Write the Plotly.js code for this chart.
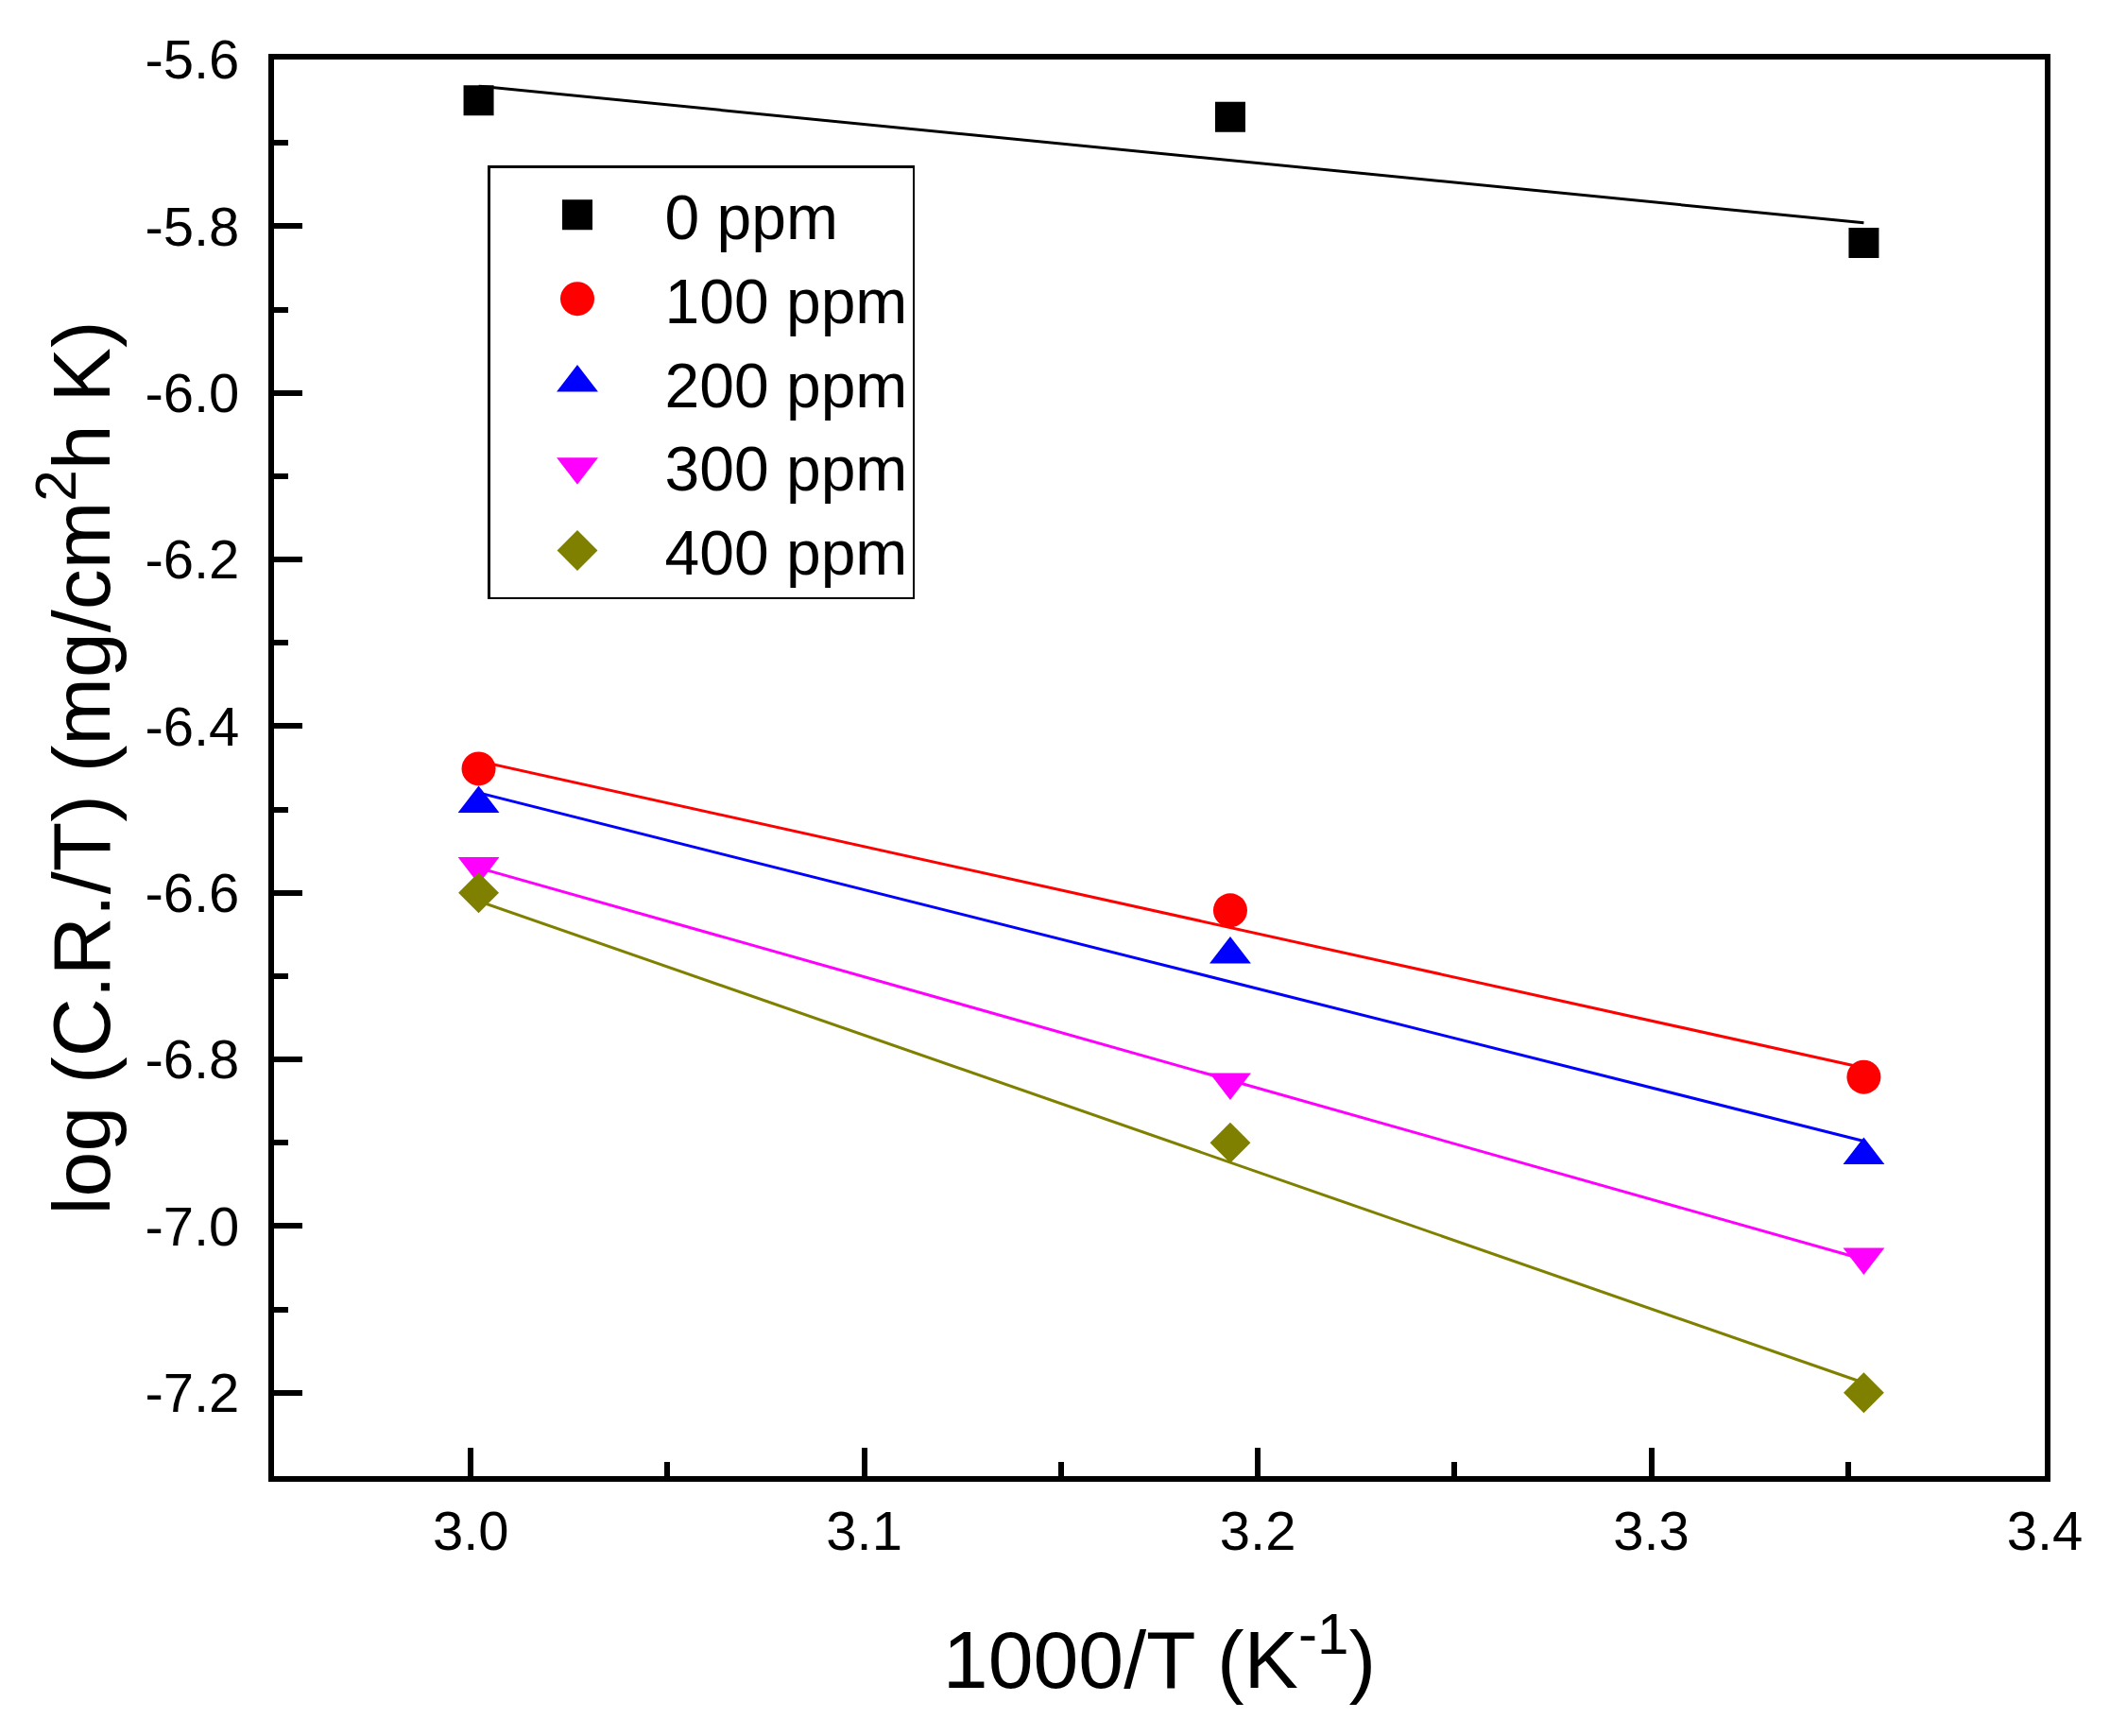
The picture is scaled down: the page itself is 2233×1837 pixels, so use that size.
<!DOCTYPE html>
<html>
<head>
<meta charset="utf-8">
<title>log (C.R./T) vs 1000/T</title>
<script src="https://cdn.plot.ly/plotly-3.0.1.min.js"></script>
<style>
    html, body { margin: 0; padding: 0; background: #fff; }
    #grafico { width: 2233px; height: 1837px; }
</style>
</head>
<body>
<div id="grafico"></div>
<script>
    'use strict';

    // Datos (1000/T en K^-1, log(C.R./T))
    const invTemp = [3.002, 3.193, 3.354];
    const y0ppm = [-5.649, -5.669, -5.820];
    const y100ppm = [-6.451, -6.621, -6.821];
    const y200ppm = [-6.493, -6.674, -6.915];
    const y300ppm = [-6.568, -6.827, -7.037];
    const y400ppm = [-6.600, -6.900, -7.200];

    // Rectas de ajuste (extremos)
    const fitX = [3.002, 3.354];
    const fit0ppm = [-5.632, -5.796];
    const fit100ppm = [-6.442, -6.810];
    const fit200ppm = [-6.480, -6.898];
    const fit300ppm = [-6.570, -7.040];
    const fit400ppm = [-6.610, -7.188];

    const seriesNames = ['0 ppm', '100 ppm', '200 ppm', '300 ppm', '400 ppm'];

    // Etiquetas de ejes
    const xTickVals = [3.0, 3.1, 3.2, 3.3, 3.4];
    const xTickText = ['3.0', '3.1', '3.2', '3.3', '3.4'];
    const yTickVals = [-7.2, -7.0, -6.8, -6.6, -6.4, -6.2, -6.0, -5.8, -5.6];
    const yTickText = ['-7.2', '-7.0', '-6.8', '-6.6', '-6.4', '-6.2', '-6.0', '-5.8', '-5.6'];

    const FONT = 'Liberation Sans, Arial, sans-serif';

    const estilos = [
        { color: '#000000', symbol: 'square', size: 32 },
        { color: '#ff0000', symbol: 'circle', size: 36 },
        { color: '#0000ff', symbol: 'triangle-up', size: 38 },
        { color: '#ff00ff', symbol: 'triangle-down', size: 38 },
        { color: '#808000', symbol: 'diamond', size: 33 },
    ];

    const puntos = [y0ppm, y100ppm, y200ppm, y300ppm, y400ppm];
    const ajustes = [fit0ppm, fit100ppm, fit200ppm, fit300ppm, fit400ppm];

    const traces = [];

    // Primero las rectas, para que los marcadores queden encima
    ajustes.forEach(function(fy, i) {
        traces.push({
            x: fitX,
            y: fy,
            type: 'scatter',
            mode: 'lines',
            line: { color: estilos[i].color, width: 3 },
            showlegend: false,
            hoverinfo: 'skip',
        });
    });

    puntos.forEach(function(py, i) {
        traces.push({
            x: invTemp,
            y: py,
            name: seriesNames[i],
            type: 'scatter',
            mode: 'markers',
            marker: {
                color: estilos[i].color,
                symbol: estilos[i].symbol,
                size: estilos[i].size,
                line: { width: 0 },
            },
        });
    });

    const ejeComun = {
        showgrid: false,
        zeroline: false,
        showline: true,
        linecolor: '#000',
        linewidth: 6,
        mirror: true,
        ticks: 'inside',
        ticklen: 30,
        tickwidth: 6,
        tickcolor: '#000',
        tickfont: { family: FONT, size: 58, color: '#000' },
    };

    const layout = {
        width: 2233,
        height: 1837,
        paper_bgcolor: '#fff',
        plot_bgcolor: '#fff',
        font: { family: FONT, color: '#000' },
        margin: { l: 290, r: 69, t: 63, b: 275 },
        showlegend: true,
        legend: {
            x: 0.1206,
            y: 0.925,
            xanchor: 'left',
            yanchor: 'top',
            bgcolor: '#fff',
            bordercolor: '#000',
            borderwidth: 2.5,
            itemwidth: 175,
            font: { family: FONT, size: 66, color: '#000' },
        },
        xaxis: Object.assign({}, ejeComun, {
            range: [2.95, 3.4],
            tickmode: 'array',
            tickvals: xTickVals,
            ticktext: xTickText,
            ticklabelstandoff: 2,
            minor: { tickmode: 'linear', tick0: 3.05, dtick: 0.1, ticks: 'inside', ticklen: 15, tickwidth: 6, tickcolor: '#000' },
            title: {
                text: '1000/T (K<sup>-1</sup>)',
                font: { family: FONT, size: 86, color: '#000' },
                standoff: 77,
            },
        }),
        yaxis: Object.assign({}, ejeComun, {
            range: [-7.3, -5.6],
            tickmode: 'array',
            tickvals: yTickVals,
            ticktext: yTickText,
            ticklabelstandoff: 19,
            minor: { tickmode: 'linear', tick0: -5.7, dtick: 0.2, ticks: 'inside', ticklen: 15, tickwidth: 6, tickcolor: '#000' },
            title: {
                text: 'log (C.R./T) (mg/cm<sup>2</sup>h K)',
                font: { family: FONT, size: 86, color: '#000' },
                standoff: 10,
            },
        }),
    };

    Plotly.newPlot('grafico', traces, layout, { staticPlot: true }).then(function(gd) {
        // Plotly limita los símbolos de la leyenda a 16 px; se agrandan al tamaño de los marcadores
        gd.querySelectorAll('.legend .traces').forEach(function(g, i) {
            const escala = estilos[i].size / 16;
            g.querySelectorAll('path.scatterpts').forEach(function(p) {
                const t = p.getAttribute('transform') || '';
                p.setAttribute('transform', t + ' scale(' + escala + ')');
            });
        });
    });
</script>
</body>
</html>
